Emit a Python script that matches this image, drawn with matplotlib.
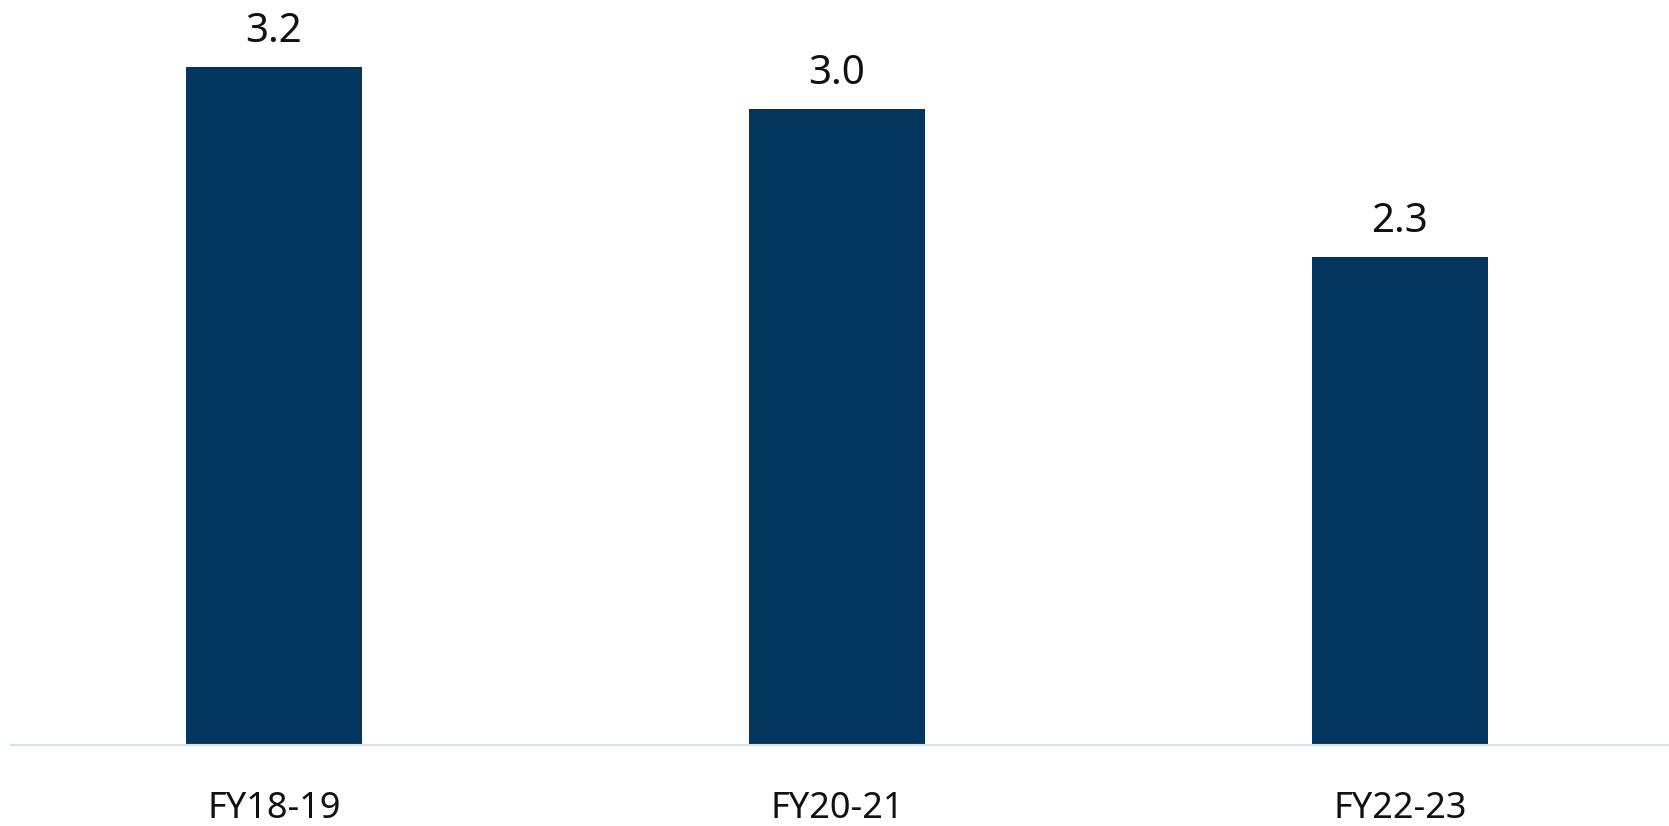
import matplotlib.pyplot as plt

# Fiscal-year values
years = ["FY18-19", "FY20-21", "FY22-23"]
values = [3.2, 3.0, 2.3]

bar_color = "#03365f"
axis_color = "#cfe3f6"

plt.rcParams['font.family'] = ['Noto Sans', 'DejaVu Sans']

fig = plt.figure(figsize=(16.69, 8.26), dpi=100)
ax = fig.add_axes([11 / 1669, 81 / 826, 1 - 11 / 1669, 745 / 826])

x = list(range(len(years)))
ax.bar(x, values, width=0.3125, color=bar_color, zorder=2)

# value labels above each bar
for xi, v in zip(x, values):
    ax.annotate(f"{v:.1f}", (xi, v), xytext=(0, 18), textcoords="offset points",
                ha="center", va="baseline", fontsize=29, color="#111111")

# category labels under the axis line
for xi, name in zip(x, years):
    ax.annotate(name, (xi, 0), xycoords=ax.get_xaxis_transform(),
                xytext=(0, -52.5), textcoords="offset points",
                ha="center", va="baseline", fontsize=26, color="#111111",
                annotation_clip=False)

ax.set_xlim(-0.467, 2.478)
ax.set_ylim(0, 745 / 212)

ax.set_xticks([])
ax.set_yticks([])

for side in ["top", "right", "left"]:
    ax.spines[side].set_visible(False)
ax.spines["bottom"].set_color(axis_color)
ax.spines["bottom"].set_linewidth(1.5)

fig.savefig("out.png", dpi=100)
